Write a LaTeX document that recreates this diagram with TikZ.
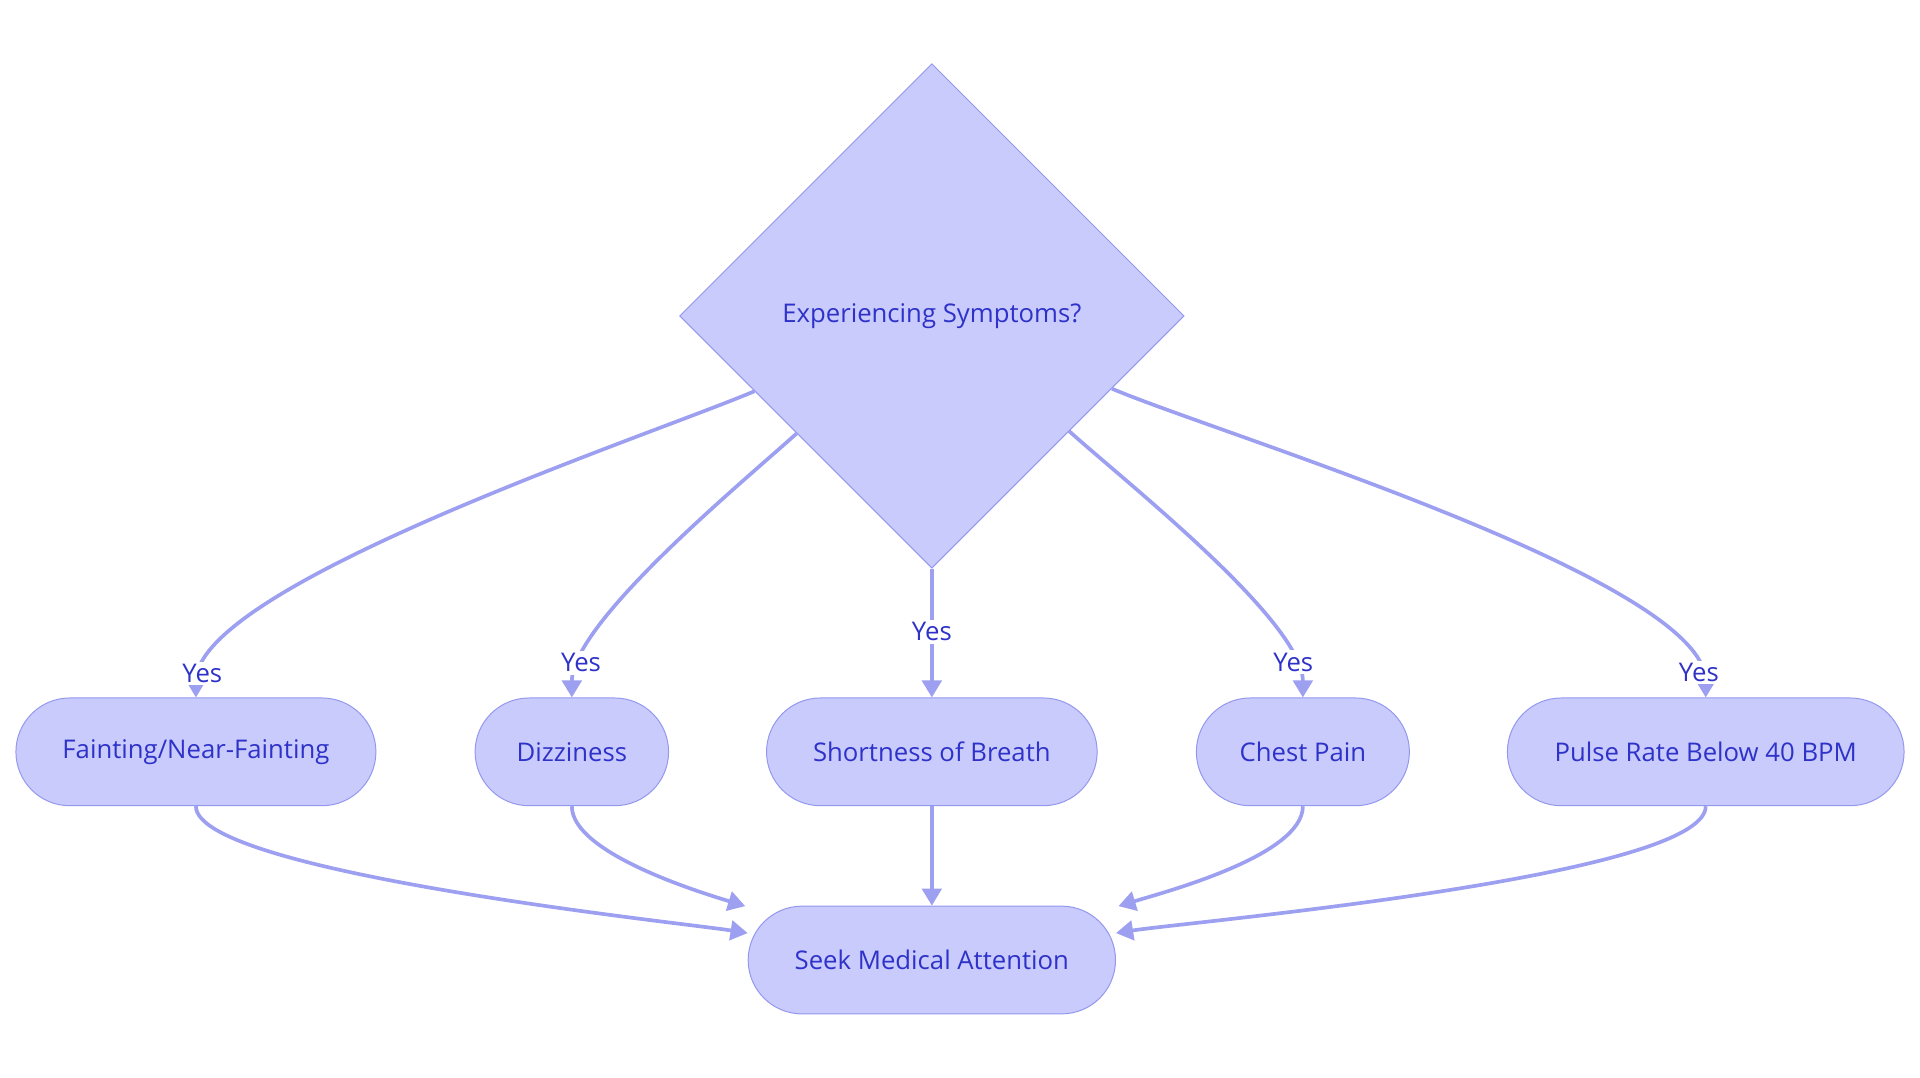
\documentclass[tikz,border=0pt]{standalone}
\usepackage{fontspec}
\setmainfont{Open Sans}
\usetikzlibrary{shapes.geometric,arrows.meta}
\definecolor{boxfill}{HTML}{C9CBFC}
\definecolor{boxline}{HTML}{9397EE}
\definecolor{linkcol}{HTML}{9DA0F0}
\definecolor{txtcol}{HTML}{2E32C8}

\begin{document}
\begin{tikzpicture}[x=0.5pt,y=-0.5pt,
    every node/.style={text=txtcol,font=\fontsize{10.5}{13}\selectfont},
    box/.style={draw=boxline,fill=boxfill,rounded corners=22pt,
        minimum height=44pt,inner sep=0pt},
    choice/.style={diamond,draw=boxline,fill=boxfill,aspect=1,
        minimum width=206pt,minimum height=206pt,inner sep=0pt},
    link/.style={draw=linkcol,line width=1.5pt,
        -{Triangle[length=7pt,width=8pt]}},
    yes/.style={fill=white,inner sep=1pt}]
    \useasboundingbox (0,0) rectangle (1568,880);

    % Decision
    \node[choice] (ask) at (761,258) {Experiencing Symptoms?};

    % Symptoms
    \node[box,minimum width=147pt] (faint) at (160,614) {Fainting/Near-Fainting};
    \node[box,minimum width=79pt] (dizzy) at (467,614) {Dizziness};
    \node[box,minimum width=135pt] (breath) at (761,614) {Shortness of Breath};
    \node[box,minimum width=87pt] (chest) at (1064,614) {Chest Pain};
    \node[box,minimum width=162pt] (pulse) at (1393,614) {Pulse Rate Below 40 BPM};

    % Outcome
    \node[box,minimum width=150pt] (seek) at (761,784) {Seek Medical Attention};

    % Yes branches
    \draw[link] (ask.203.6) to[out=203,in=90,looseness=0.45]
        node[yes,pos=0.93] {Yes} (faint.north);
    \draw[link] (ask.221.4) to[out=222,in=90,looseness=0.55]
        node[yes,pos=0.86] {Yes} (dizzy.north);
    \draw[link] (ask.south) --
        node[yes,pos=0.49] {Yes} (breath.north);
    \draw[link] (ask.-40.3) to[out=-42,in=90,looseness=0.55]
        node[yes,pos=0.86] {Yes} (chest.north);
    \draw[link] (ask.-22.3) to[out=-23,in=90,looseness=0.45]
        node[yes,pos=0.93] {Yes} (pulse.north);

    % Into outcome
    \coordinate (seekL) at ([yshift=11pt]seek.west);
    \coordinate (seekR) at ([yshift=11pt]seek.east);
    \coordinate (seekTL) at ([xshift=-1pt,yshift=22pt]seek.west);
    \coordinate (seekTR) at ([xshift=1pt,yshift=22pt]seek.east);
    \draw[link] (faint.south) to[out=-90,in=171,looseness=0.3] (seekL);
    \draw[link] (dizzy.south) to[out=-90,in=163,looseness=0.6] (seekTL);
    \draw[link] (breath.south) -- (seek.north);
    \draw[link] (chest.south) to[out=-90,in=17,looseness=0.6] (seekTR);
    \draw[link] (pulse.south) to[out=-90,in=9,looseness=0.3] (seekR);
\end{tikzpicture}
\end{document}
